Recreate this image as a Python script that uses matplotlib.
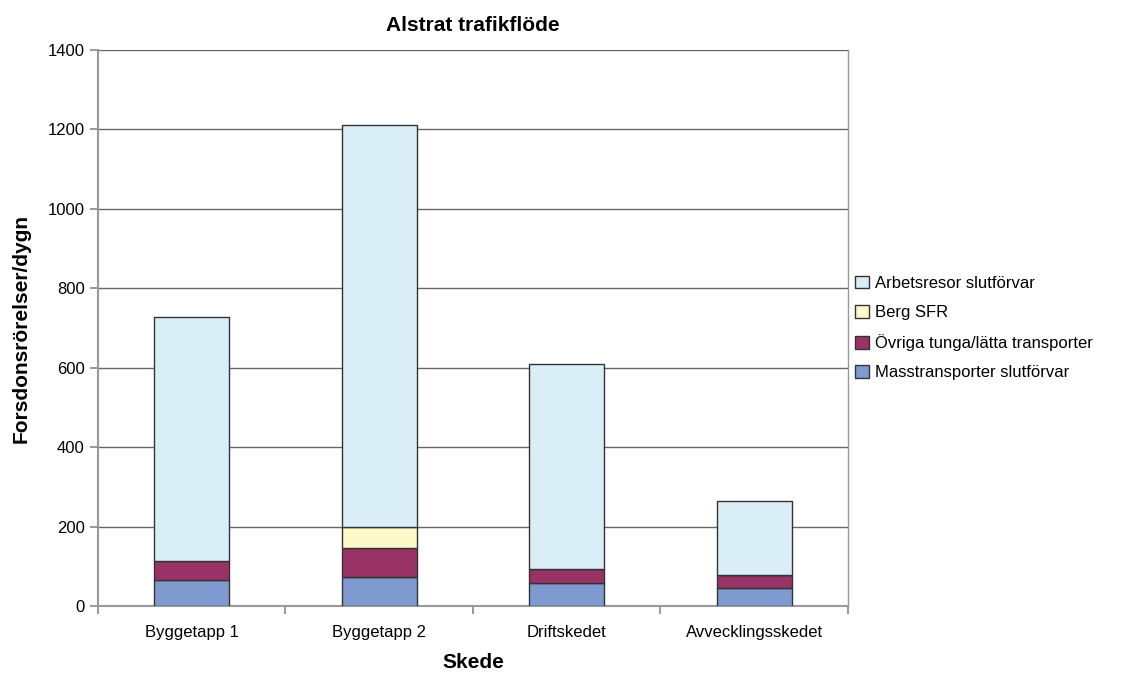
import matplotlib.pyplot as plt
import numpy as np

plt.rcParams['font.family'] = ['Liberation Sans', 'DejaVu Sans']

# data
skeden = ["Byggetapp 1", "Byggetapp 2", "Driftskedet", "Avvecklingsskedet"]
masstransporter = [66, 74, 59, 44]
ovriga = [46, 72, 34, 35]
berg_sfr = [0, 52, 0, 0]
arbetsresor = [617, 1013, 516, 186]

series = [
    ("Masstransporter slutförvar", masstransporter, "#7F9ACF"),
    ("Övriga tunga/lätta transporter", ovriga, "#993366"),
    ("Berg SFR", berg_sfr, "#FFF9C9"),
    ("Arbetsresor slutförvar", arbetsresor, "#DAEEF7"),
]

fig = plt.figure(figsize=(11.21, 6.73), dpi=100)
ax = fig.add_axes([0.0874, 0.0996, 0.669, 0.826])

x = np.arange(len(skeden))
bottom = np.zeros(len(skeden))
handles = []
for name, vals, col in series:
    vals = np.array(vals, dtype=float)
    b = ax.bar(x, vals, width=0.4, bottom=bottom, color=col,
               edgecolor="#333333", linewidth=1.0, label=name, zorder=3)
    handles.append(b)
    bottom += vals

ax.set_xlim(-0.5, len(skeden) - 0.5)
ax.set_ylim(0, 1400)
ax.set_yticks(range(0, 1401, 200))
ax.yaxis.grid(True, color="#666666", linewidth=1.0, zorder=0)

ax.set_xticks(x)
ax.set_xticklabels(skeden, fontsize=12)
ax.tick_params(axis="x", length=0, pad=14)
ax.set_xticks(np.arange(-0.5, len(skeden), 1), minor=True)
ax.tick_params(axis="x", which="minor", length=6, color="#888888", width=1.2)
ax.tick_params(axis="y", labelsize=12, length=6, color="#888888", width=1.2)

for s in ["left", "bottom"]:
    ax.spines[s].set_color("#999999")
    ax.spines[s].set_linewidth(1.5)
ax.spines["top"].set_visible(False)
ax.spines["right"].set_color("#999999")
ax.spines["right"].set_linewidth(1.0)

ax.set_title("Alstrat trafikflöde", fontsize=15, fontweight="bold", pad=14)
ax.set_xlabel("Skede", fontsize=15, fontweight="bold", labelpad=9)
ax.set_ylabel("Forsdonsrörelser/dygn", fontsize=15, fontweight="bold", labelpad=12)

leg = ax.legend(handles[::-1], [s[0] for s in series][::-1],
                loc="center left", bbox_to_anchor=(0.99, 0.5),
                frameon=False, fontsize=12, handlelength=0.8,
                handleheight=0.8, handletextpad=0.4, labelspacing=0.85)

fig.savefig("out.png", dpi=100)
